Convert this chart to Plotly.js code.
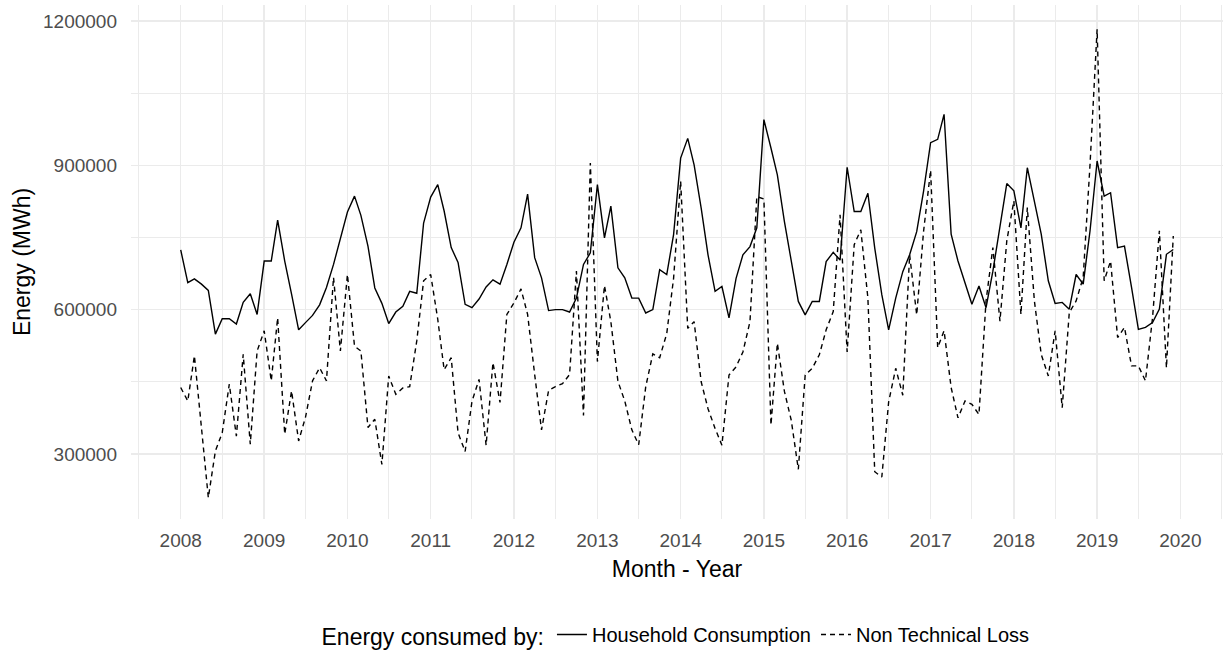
<!DOCTYPE html>
<html>
<head>
<meta charset="utf-8">
<script src="https://cdn.plot.ly/plotly-3.0.1.min.js"></script>
<style>
html,body{margin:0;padding:0;background:#fff;}
#chart{width:1231px;height:652px;}
</style>
</head>
<body>
<div id="chart"></div>
<script>
// Monthly series, January 2008 – December 2019 (MWh)
const startYear = 2008;
const endYear = 2019;
const yearTicks = [2008, 2009, 2010, 2011, 2012, 2013, 2014, 2015, 2016, 2017, 2018, 2019, 2020];
const yTicks = [300000, 600000, 900000, 1200000];

const householdConsumption = [
  724000, 656000, 664000, 653000, 640000, 549000, 581000, 581000, 570000, 615000, 633000, 590000,
  701000, 701000, 786000, 701000, 632000, 558000, 573000, 588000, 610000, 646000, 694000, 748000,
  803000, 836000, 796000, 732000, 645000, 613000, 571000, 595000, 607000, 638000, 634000, 780000,
  834000, 860000, 805000, 729000, 698000, 611000, 604000, 622000, 647000, 662000, 653000, 694000,
  740000, 770000, 840000, 708000, 666000, 598000, 600000, 600000, 595000, 624000, 694000, 718000,
  860000, 749000, 815000, 687000, 666000, 624000, 624000, 593000, 600000, 683000, 673000, 756000,
  915000, 956000, 901000, 811000, 714000, 638000, 648000, 583000, 665000, 714000, 731000, 770000,
  995000, 936000, 880000, 783000, 700000, 617000, 589000, 617000, 617000, 700000, 719000, 703000,
  896000, 804000, 804000, 842000, 728000, 631000, 558000, 624000, 679000, 714000, 762000, 846000,
  947000, 954000, 1006000, 757000, 701000, 653000, 611000, 649000, 604000, 680000, 770000, 862000,
  847000, 770000, 895000, 826000, 757000, 660000, 613000, 615000, 601000, 673000, 653000, 764000,
  909000, 836000, 843000, 729000, 732000, 646000, 559000, 563000, 573000, 601000, 715000, 725000
];

const nonTechnicalLoss = [
  438000, 410000, 504000, 360000, 209000, 306000, 344000, 445000, 337000, 507000, 320000, 514000,
  556000, 452000, 583000, 341000, 431000, 327000, 376000, 452000, 479000, 452000, 667000, 514000,
  673000, 524000, 514000, 355000, 372000, 278000, 462000, 424000, 437000, 440000, 535000, 660000,
  673000, 580000, 475000, 500000, 344000, 305000, 409000, 455000, 318000, 490000, 407000, 590000,
  614000, 643000, 590000, 465000, 350000, 432000, 440000, 446000, 465000, 680000, 380000, 905000,
  492000, 650000, 575000, 451000, 410000, 350000, 319000, 440000, 508000, 500000, 550000, 665000,
  867000, 561000, 575000, 450000, 394000, 353000, 318000, 464000, 481000, 512000, 575000, 835000,
  830000, 360000, 530000, 430000, 370000, 268000, 464000, 478000, 506000, 558000, 596000, 797000,
  512000, 735000, 766000, 624000, 263000, 252000, 408000, 478000, 422000, 714000, 589000, 762000,
  890000, 521000, 556000, 438000, 375000, 410000, 403000, 382000, 618000, 729000, 576000, 743000,
  826000, 590000, 812000, 618000, 507000, 462000, 556000, 396000, 594000, 618000, 667000, 902000,
  1183000, 660000, 701000, 542000, 563000, 483000, 483000, 452000, 583000, 764000, 479000, 753000
];

const months = [];
for (let y = startYear; y <= endYear; y++) {
  for (let m = 1; m <= 12; m++) {
    months.push(y + '-' + String(m).padStart(2, '0') + '-01');
  }
}

const FONT = '"Liberation Sans", Arial, sans-serif';

const traces = [
  {
    x: months, y: householdConsumption, type: 'scatter', mode: 'lines',
    name: 'Household Consumption',
    line: {color: '#000000', width: 1.4, dash: 'solid'}
  },
  {
    x: months, y: nonTechnicalLoss, type: 'scatter', mode: 'lines',
    name: 'Non Technical Loss',
    line: {color: '#000000', width: 1.4, dash: '5px,4px'}
  }
];

const layout = {
  width: 1231, height: 652,
  paper_bgcolor: '#ffffff', plot_bgcolor: '#ffffff',
  margin: {l: 131, r: 8, t: 5, b: 133},
  font: {family: FONT, color: '#000000'},
  showlegend: true,
  xaxis: {
    type: 'date',
    range: ['2007-05-28', '2020-07-06'],
    tickvals: yearTicks.map(y => y + '-01-01'),
    ticktext: yearTicks.map(String),
    showgrid: true, gridcolor: '#ebebeb', gridwidth: 1.4,
    minor: {dtick: 'M12', tick0: '2007-07-01', showgrid: true, gridcolor: '#ebebeb', gridwidth: 1.0},
    zeroline: false, showline: false, ticks: '',
    ticklabelstandoff: 8,
    tickfont: {family: FONT, size: 19, color: '#4d4d4d'},
    title: {text: 'Month - Year', font: {family: FONT, size: 23, color: '#000000'}, standoff: 10},
    automargin: false, fixedrange: true
  },
  yaxis: {
    range: [164700, 1233300],
    tickvals: yTicks,
    ticktext: yTicks.map(String),
    showgrid: true, gridcolor: '#ebebeb', gridwidth: 1.4,
    minor: {tickvals: [150000, 450000, 750000, 1050000], showgrid: true, gridcolor: '#ebebeb', gridwidth: 1.0},
    zeroline: false, showline: false, ticks: '',
    ticklabelstandoff: 13,
    tickfont: {family: FONT, size: 19, color: '#4d4d4d'},
    title: {text: 'Energy (MWh)', font: {family: FONT, size: 23, color: '#000000'}, standoff: 5},
    automargin: false, fixedrange: true
  },
  legend: {
    orientation: 'h',
    x: 0.5, xanchor: 'center', xref: 'paper',
    y: 0.026, yanchor: 'middle', yref: 'container',
    title: {text: 'Energy consumed by:', side: 'left', font: {family: FONT, size: 23, color: '#000000'}},
    font: {family: FONT, size: 20, color: '#000000'},
    bgcolor: 'rgba(0,0,0,0)',
    itemwidth: 30
  }
};

Plotly.newPlot('chart', traces, layout, {displayModeBar: false, staticPlot: true});
</script>
</body>
</html>
